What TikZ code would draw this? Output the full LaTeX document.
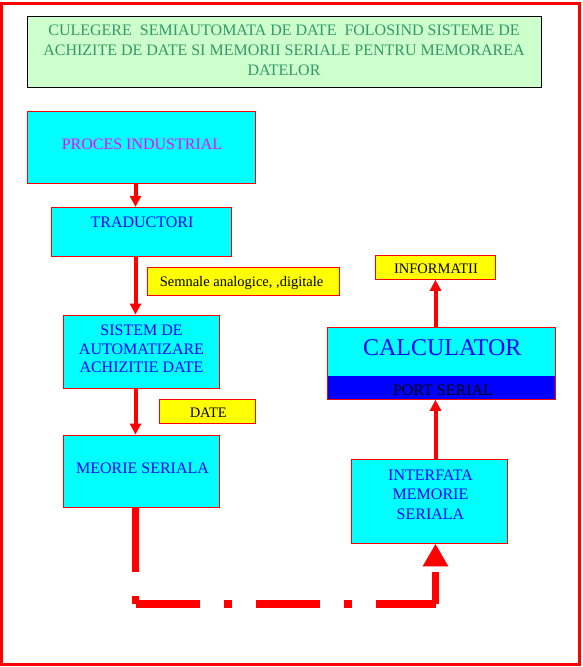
\documentclass[tikz,border=0pt]{standalone}
\usepackage{fontspec}
\setmainfont{Liberation Serif}
\usetikzlibrary{arrows.meta}
\definecolor{paleg}{RGB}{204,255,204}
\definecolor{titleg}{RGB}{51,153,102}
\definecolor{aqua}{RGB}{0,255,255}
\definecolor{fred}{RGB}{255,0,0}
\definecolor{fyellow}{RGB}{255,255,0}
\definecolor{fblue}{RGB}{0,0,255}
\definecolor{fpink}{RGB}{255,0,255}
\begin{document}
\begin{tikzpicture}[x=1pt,y=-1pt]

    \tikzset{
      block/.style={
        draw=fred,
        fill=aqua,
        line width=1pt,
        inner sep=0pt,
      },
      tag/.style={draw=fred, fill=fyellow, line width=1pt, inner sep=0pt},
      blocktext/.style={text=fblue, font=\fontsize{16}{18.5}\selectfont, align=center, inner sep=0pt},
      tagtext/.style={font=\fontsize{14.5}{17}\selectfont, inner sep=0pt},
      feed/.style={draw=fred, line width=4pt, -{Triangle[length=11pt,width=11pt]}},
      bus/.style={draw=fred, line width=7.5pt, dash pattern=on 64pt off 24pt on 8pt off 24pt},
    }
    \useasboundingbox (0,0) rectangle (583,667);
    \draw[fred, line width=3pt] (1.5,3) rectangle (579.5,664.5);

	\node[draw=black, fill=paleg, line width=1pt, inner sep=0pt, minimum width=514, minimum height=71.3] (titlu) at (284,51.65) {};
	\node[font=\fontsize{16}{19.8}\selectfont, text=titleg, align=center, inner sep=0pt] (titlu-t) at (284,50.3) {CULEGERE\ \ SEMIAUTOMATA DE DATE\ \ FOLOSIND SISTEME DE\\ACHIZITE DE DATE SI MEMORII SERIALE PENTRU MEMORAREA\\DATELOR};

	\node[block, minimum width=228, minimum height=72.3] (proces) at (141.5,147.15) {};
	\node[block, minimum width=180, minimum height=48.7] (trad) at (141.5,231.65) {};
	\node[tag, minimum width=191.6, minimum height=27.7] (semnale) at (243.5,281.15) {};
	\node[block, minimum width=156, minimum height=73.3] (sistem) at (141.3,351.65) {};
	\node[tag, minimum width=96.4, minimum height=24] (date) at (207.5,411.3) {};
	\node[block, minimum width=156, minimum height=72.3] (meorie) at (141.3,471.15) {};
	\node[block, minimum width=155.6, minimum height=84] (interfata) at (429.5,501.3) {};
	\node[block, minimum width=228.4, minimum height=72] (calc) at (441.5,363.3) {};
	\node[fill=fblue, inner sep=0pt, minimum width=227.4, minimum height=23.1] (port) at (441.5,387.25) {};
	\node[tag, minimum width=120, minimum height=24.3] (info) at (435,267.15) {};

	\node[blocktext, text=fpink] (proces-t) at (142,144.2) {PROCES INDUSTRIAL};
	\node[blocktext] (trad-t) at (142,222.5) {TRADUCTORI};
	\node[tagtext, anchor=base] (semnale-t) at (241.5,286) {Semnale analogice, ,digitale};
	\node[blocktext] (sistem-t) at (141.5,349.2) {SISTEM DE\\AUTOMATIZARE\\ACHIZITIE DATE};
	\node[tagtext] (date-t) at (208.3,412.7) {DATE};
	\node[blocktext] (meorie-t) at (142.5,468.5) {MEORIE SERIALA};
	\node[blocktext, font=\fontsize{16}{19.5}\selectfont] (interfata-t) at (430.5,494.3) {INTERFATA\\MEMORIE\\SERIALA};
	\node[blocktext, font=\fontsize{24}{28}\selectfont] (calc-t) at (442.2,347.7) {CALCULATOR};
	\node[blocktext, text=black] (port-t) at (443,390.3) {PORT SERIAL};
	\node[tagtext] (info-t) at (436,269.2) {INFORMATII};

	\coordinate (lane) at (135.5,0);
	\coordinate (rlane) at (435.5,0);
	\coordinate (bendl) at (135.5,603.8);
	\coordinate (bendr) at (435.5,603.8);

	\draw[feed] (proces.south -| lane) -- (trad.north -| lane);
	\draw[feed] (trad.south -| lane) -- (sistem.north -| lane);
	\draw[feed] (sistem.south -| lane) -- (meorie.north -| lane);
	\draw[feed] (interfata.north -| rlane) -- (calc.south -| rlane);
	\draw[feed] (calc.north -| rlane) -- (info.south -| rlane);

	\draw[bus] (meorie.south -| lane) -- (bendl);
	\draw[bus] (bendl) -- (bendr);
	\draw[bus, dash pattern=on 32pt off 12pt, -{Triangle[length=22.5pt,width=24pt]}] (bendr) -- (interfata.south -| rlane);

\end{tikzpicture}
\end{document}
